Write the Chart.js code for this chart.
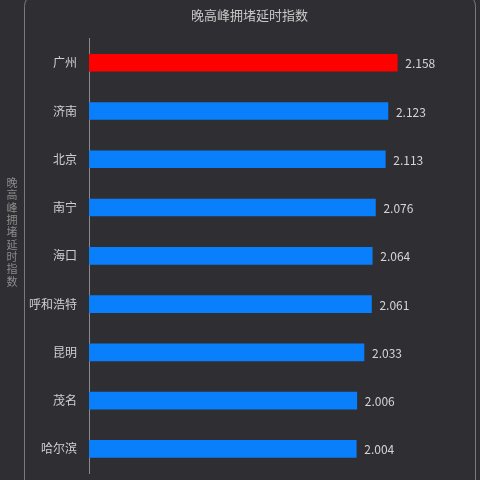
<!DOCTYPE html>
<html>
<head>
<meta charset="utf-8">
<script src="https://cdn.jsdelivr.net/npm/chart.js@4/dist/chart.umd.min.js"></script>
<style>
  html, body { margin: 0; padding: 0; background: #2e2e33; }
  #wrap { width: 480px; height: 480px; position: relative; }
</style>
</head>
<body>
<div id="wrap"><canvas id="c"></canvas></div>
<script>
const chartTitle = '晚高峰拥堵延时指数';
const axisTitle = '晚高峰拥堵延时指数';
const cities = ['广州', '济南', '北京', '南宁', '海口', '呼和浩特', '昆明', '茂名', '哈尔滨'];
const delayIndex = [2.158, 2.123, 2.113, 2.076, 2.064, 2.061, 2.033, 2.006, 2.004];

const FONT = '"Noto Sans CJK SC", "Noto Sans", sans-serif';
const barColors = delayIndex.map((v, i) => i === 0 ? '#ff0000' : '#0a7ffc');

const framePlugin = {
  id: 'frame',
  beforeDraw(chart) {
    const ctx = chart.ctx;
    ctx.save();
    ctx.fillStyle = '#2e2e33';
    ctx.fillRect(0, 0, chart.width, chart.height);
    ctx.strokeStyle = '#7a7a7e';
    ctx.lineWidth = 1;
    const x0 = 24.5, x1 = 475.5, y0 = -3.5, r = 10;
    ctx.beginPath();
    ctx.moveTo(x0, chart.height + 10);
    ctx.lineTo(x0, y0 + r);
    ctx.quadraticCurveTo(x0, y0, x0 + r, y0);
    ctx.lineTo(x1 - r, y0);
    ctx.quadraticCurveTo(x1, y0, x1, y0 + r);
    ctx.lineTo(x1, chart.height + 10);
    ctx.stroke();
    // vertical axis title, upright stacked characters
    ctx.fillStyle = '#8c8c8c';
    ctx.font = '11px ' + FONT;
    ctx.textAlign = 'center';
    ctx.textBaseline = 'middle';
    const chars = Array.from(axisTitle);
    const step = 12.3;
    const start = 183;
    chars.forEach((ch, i) => ctx.fillText(ch, 12, start + i * step));
    ctx.restore();
  }
};

const valueLabelPlugin = {
  id: 'valueLabels',
  afterDatasetsDraw(chart) {
    const ctx = chart.ctx;
    const meta = chart.getDatasetMeta(0);
    ctx.save();
    ctx.fillStyle = '#d6d6d6';
    ctx.font = '12px ' + FONT;
    ctx.textAlign = 'left';
    ctx.textBaseline = 'middle';
    meta.data.forEach((bar, i) => {
      ctx.fillText(delayIndex[i].toFixed(3), bar.x + 8, bar.y + 1);
    });
    ctx.restore();
  }
};

new Chart(document.getElementById('c'), {
  type: 'bar',
  data: {
    labels: cities,
    datasets: [{
      data: delayIndex,
      backgroundColor: barColors,
      borderWidth: 0,
      barThickness: 17
    }]
  },
  options: {
    indexAxis: 'y',
    responsive: true,
    maintainAspectRatio: false,
    animation: false,
    devicePixelRatio: 1,
    layout: { padding: { left: 24, right: 5, top: 0, bottom: 7 } },
    plugins: {
      legend: { display: false },
      tooltip: { enabled: false },
      title: {
        display: true,
        text: chartTitle,
        color: '#c8c8c8',
        font: { family: FONT, size: 13, weight: 'normal' },
        padding: { top: 7, bottom: 16 }
      }
    },
    scales: {
      x: {
        display: false,
        min: 1,
        max: 2.45
      },
      y: {
        afterFit(scale) {
          scale.width = 65;
          scale.paddingTop = 0;
          scale.paddingBottom = 0;
        },
        grid: { display: false, drawTicks: false },
        border: { display: true, color: '#8a8a8e', width: 1 },
        ticks: {
          color: '#d0d0d0',
          padding: 12,
          font: { family: FONT, size: 12 }
        }
      }
    }
  },
  plugins: [framePlugin, valueLabelPlugin]
});
</script>
</body>
</html>
